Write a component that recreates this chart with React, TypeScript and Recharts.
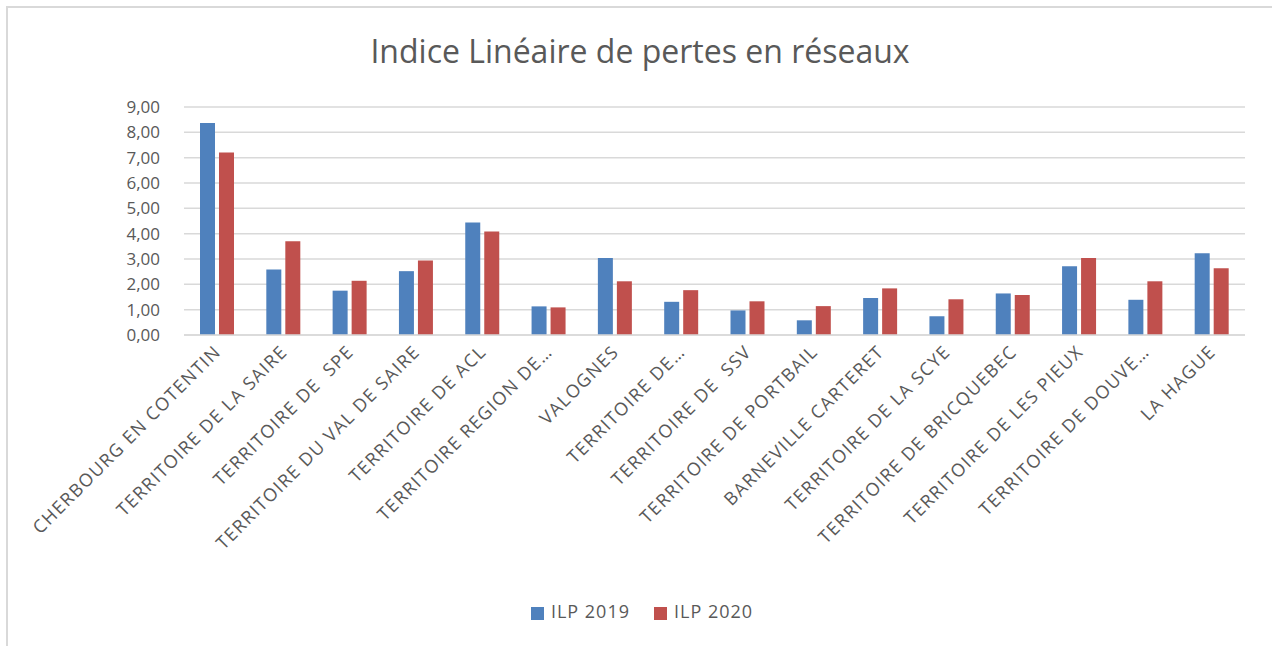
import React from "react";
import { BarChart, Bar, XAxis, YAxis, CartesianGrid, Legend } from "recharts";

const categories = [
  "CHERBOURG EN COTENTIN",
  "TERRITOIRE DE LA SAIRE",
  "TERRITOIRE DE  SPE",
  "TERRITOIRE DU VAL DE SAIRE",
  "TERRITOIRE DE ACL",
  "TERRITOIRE REGION DE…",
  "VALOGNES",
  "TERRITOIRE DE…",
  "TERRITOIRE DE  SSV",
  "TERRITOIRE DE PORTBAIL",
  "BARNEVILLE CARTERET",
  "TERRITOIRE DE LA SCYE",
  "TERRITOIRE DE BRICQUEBEC",
  "TERRITOIRE DE LES PIEUX",
  "TERRITOIRE DE DOUVE…",
  "LA HAGUE",
];

const ilp2019 = [8.37, 2.59, 1.75, 2.52, 4.44, 1.13, 3.04, 1.31, 0.97, 0.58, 1.46, 0.74, 1.64, 2.71, 1.39, 3.23];
const ilp2020 = [7.2, 3.7, 2.14, 2.94, 4.09, 1.09, 2.12, 1.77, 1.33, 1.14, 1.84, 1.41, 1.58, 3.04, 2.12, 2.63];

const yTicks = [0, 1, 2, 3, 4, 5, 6, 7, 8, 9];

const FONT = "'Open Sans', Lato, sans-serif";
const TEXT = "#595959";

const data = categories.map((name, i) => ({
  name,
  ilp2019: ilp2019[i],
  ilp2020: ilp2020[i],
}));

const fmt = (v: number) => v.toFixed(2).replace(".", ",");

function XTick(props: any) {
  const { x, y, payload } = props;
  return (
    <text
      x={x + 5}
      y={y + 10}
      transform={`rotate(-45, ${x + 5}, ${y + 10})`}
      textAnchor="end"
      fill={TEXT}
      fontSize={18}
      letterSpacing={1.35}
      fontFamily={FONT}
      style={{ whiteSpace: "pre" }}
    >
      {payload.value}
    </text>
  );
}

export default function App() {
  return (
    <div
      style={{
        position: "absolute",
        left: 0,
        top: 0,
        width: 1272,
        height: 646,
        background: "#fff",
        overflow: "hidden",
        fontFamily: FONT,
      }}
    >
      <div
        style={{
          position: "absolute",
          left: 6,
          top: 6,
          width: 1300,
          height: 700,
          borderLeft: "2px solid #d9d9d9",
          borderTop: "2px solid #d9d9d9",
        }}
      />
      <div
        style={{
          position: "absolute",
          left: 0,
          width: 1280,
          top: 29,
          textAlign: "center",
          fontSize: 32,
          color: TEXT,
          fontFamily: FONT,
        }}
      >
        Indice Linéaire de pertes en réseaux
      </div>
      <div style={{ position: "absolute", left: 0, top: 0 }}>
        <BarChart
          width={1272}
          height={646}
          data={data}
          margin={{ top: 107, right: 27, left: 0, bottom: 0 }}
          barSize={15}
          barGap={4}
        >
          <CartesianGrid vertical={false} stroke="#d9d9d9" strokeWidth={1.5} />
          <XAxis
            dataKey="name"
            height={311}
            interval={0}
            tickLine={false}
            axisLine={{ stroke: "#d9d9d9", strokeWidth: 1.5 }}
            tick={<XTick />}
          />
          <YAxis
            width={184}
            domain={[0, 9]}
            ticks={yTicks}
            tickFormatter={fmt}
            axisLine={false}
            tickLine={false}
            tickSize={0}
            tickMargin={24}
            tick={{ fontSize: 17, fill: TEXT, fontFamily: FONT }}
          />
          <Legend
            layout="horizontal"
            verticalAlign="middle"
            align="center"
            iconType="square"
            iconSize={13}
            wrapperStyle={{ top: 599, left: 18, width: 1272, fontSize: 18, fontFamily: FONT, letterSpacing: 1 }}
            formatter={(value: string) => <span style={{ color: TEXT, marginRight: 14, marginLeft: 3 }}>{value}</span>}
          />
          <Bar dataKey="ilp2019" name="ILP 2019" fill="#4f81bd" isAnimationActive={false} />
          <Bar dataKey="ilp2020" name="ILP 2020" fill="#c0504d" isAnimationActive={false} />
        </BarChart>
      </div>
    </div>
  );
}
